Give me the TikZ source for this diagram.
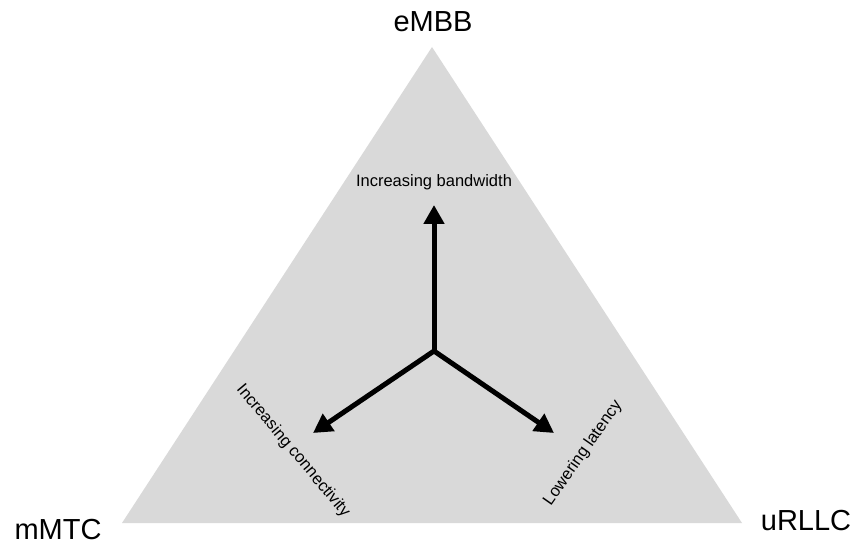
\documentclass[tikz,border=0pt]{standalone}
\usepackage{fontspec}
\setmainfont{Liberation Sans}
\usetikzlibrary{arrows.meta}

\definecolor{planegray}{HTML}{D9D9D9}

\tikzset{
  corner/.style={font=\fontsize{29}{32}\selectfont, inner sep=0pt},
  trend/.style={font=\fontsize{16.5}{18}\selectfont, inner sep=0pt},
  push/.style={line width=5pt, -{Triangle[length=19pt,width=20pt]}},
}

\begin{document}
\begin{tikzpicture}[x=1pt,y=-1pt]

\useasboundingbox (0,0) rectangle (856,545);

\coordinate (top) at (432,47);
\coordinate (left) at (122,523);
\coordinate (right) at (742,523);
\fill[planegray] (top) -- (left) -- (right) -- cycle;

\node[corner] (embb) at (433,22) {eMBB};
\node[corner] (mmtc) at (58,530) {mMTC};
\node[corner] (urllc) at (806,521) {uRLLC};

\coordinate (hub) at (434,351);
\coordinate (up) at (434,205);
\coordinate (downleft) at (313,433);
\coordinate (downright) at (554,433);
\draw[push] (hub) -- (up);
\draw[push] (hub) -- (downleft);
\draw[push] (hub) -- (downright);

\node[trend] (bandwidth) at (434,182) {Increasing bandwidth};
\node[trend, rotate=-50] (connectivity) at (293,451) {Increasing connectivity};
\node[trend, rotate=55] (latency) at (583,453) {Lowering latency};
\end{tikzpicture}
\end{document}
